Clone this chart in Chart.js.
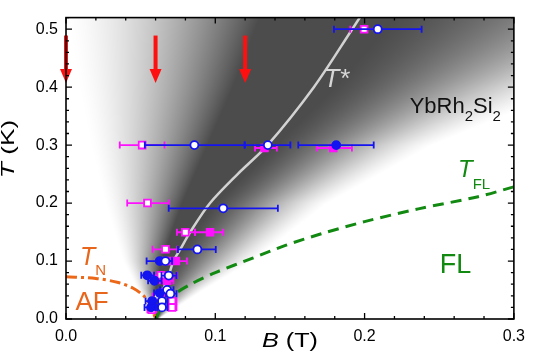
<!DOCTYPE html>
<html>
<head>
<meta charset="utf-8">
<script src="https://cdn.jsdelivr.net/npm/chart.js@4.4.0/dist/chart.umd.min.js"></script>
<style>
  html, body { margin: 0; padding: 0; background: #fff; }
</style>
</head>
<body>
<canvas id="chart" width="533" height="362"></canvas>
<script>
// axis ranges and tick labels
const bRange = [0, 0.3];
const tRange = [0, 0.52];
const bTicks = [0.0, 0.1, 0.2, 0.3];
const tTicks = [0.0, 0.1, 0.2, 0.3, 0.4, 0.5];

// blue open circles: field B, temperature T, error bar ends
const blueOpenB  = [0.2088, 0.086, 0.1352, 0.1053, 0.088, 0.0666, 0.0688, 0.0677, 0.0699, 0.0643, 0.0643];
const blueOpenT  = [0.5, 0.3, 0.3, 0.191, 0.12, 0.1, 0.075, 0.0503, 0.0437, 0.031, 0.02];
const blueOpenLo = [0.1795, 0.0528, 0.1197, 0.0688, 0.075, 0.062, 0.064, 0.063, 0.067, 0.06, 0.06];
const blueOpenHi = [0.2382, 0.1197, 0.1503, 0.1419, 0.1003, 0.071, 0.074, 0.072, 0.074, 0.068, 0.068];

// blue filled circles
const blueFillB  = [0.181, 0.0628, 0.0544, 0.0593, 0.0628, 0.0577, 0.057];
const blueFillT  = [0.3, 0.1, 0.0754, 0.066, 0.0448, 0.031, 0.02];
const blueFillLo = [0.1556, 0.054, 0.0504, 0.055, 0.059, 0.0533, 0.0526];
const blueFillHi = [0.2061, 0.0711, 0.059, 0.064, 0.067, 0.062, 0.061];

// magenta open squares
const magOpenB  = [0.1997, 0.051, 0.0546, 0.0799, 0.0666, 0.0677, 0.0636, 0.061, 0.071, 0.071, 0.0575];
const magOpenT  = [0.5, 0.3, 0.2, 0.1497, 0.1202, 0.1, 0.0754, 0.039, 0.031, 0.02, 0.016];
const magOpenLo = [0.1904, 0.036, 0.041, 0.0743, 0.058, 0.0625, 0.0588, 0.058, 0.068, 0.068, 0.0545];
const magOpenHi = [0.209, 0.066, 0.0688, 0.0864, 0.0746, 0.073, 0.0743, 0.064, 0.074, 0.074, 0.0605];

// magenta filled squares
const magFillB  = [0.133, 0.179, 0.0965, 0.0736, 0.0677, 0.066];
const magFillT  = [0.295, 0.295, 0.1497, 0.1, 0.066, 0.046];
const magFillLo = [0.1266, 0.168, 0.0864, 0.066, 0.063, 0.062];
const magFillHi = [0.1412, 0.1915, 0.1053, 0.081, 0.072, 0.07];

// crossover lines
const tStarB = [0.0654, 0.0688, 0.072, 0.0765, 0.0832, 0.0965, 0.115, 0.135, 0.166, 0.1917, 0.198];
const tStarT = [0.053, 0.075, 0.1, 0.12, 0.15, 0.2, 0.25, 0.3, 0.4, 0.5, 0.525];
const tFlB = [0.06, 0.064, 0.071, 0.085, 0.1, 0.125, 0.147, 0.171, 0.2, 0.236, 0.276, 0.3];
const tFlT = [0, 0.02, 0.04, 0.062, 0.08, 0.105, 0.127, 0.147, 0.168, 0.19, 0.211, 0.228];
const tNB = [0, 0.02, 0.035, 0.045, 0.052, 0.057, 0.06];
const tNT = [0.073, 0.07, 0.063, 0.053, 0.04, 0.022, 0];

// red arrows (field values)
const arrowB = [0, 0.06, 0.12];
const arrowT = [0.489, 0.407];

// grey map: edges of the fan at several temperatures
const shadeT  = [0, 0.05, 0.1, 0.2, 0.3, 0.4, 0.52];
const shadeLw = [0.059, 0.048, 0.038, 0.026, 0.016, 0.008, 0.0];
const shadeLc = [0.06, 0.06, 0.064, 0.078, 0.095, 0.112, 0.13];
const shadeRc = [0.061, 0.064, 0.072, 0.1, 0.14, 0.18, 0.22];
const shadeRw = [0.062, 0.092, 0.125, 0.175, 0.245, 0.34, 0.48];
const shadeCore = 76;

const FONT = "'Liberation Sans', Arial, sans-serif";
const BLUE = '#1414f0';
const MAGENTA = '#ff10ff';

const pts = (xs, ys) => xs.map((v, i) => ({ x: v, y: ys[i] }));

function interp(xs, ys, v) {
  if (v <= xs[0]) return ys[0];
  for (let i = 1; i < xs.length; i++) {
    if (v <= xs[i]) {
      const f = (v - xs[i - 1]) / (xs[i] - xs[i - 1]);
      return ys[i - 1] + f * (ys[i] - ys[i - 1]);
    }
  }
  return ys[ys.length - 1];
}
const rampL = t => Math.pow(t, 1.45);
const rampR = t => 0.5 * t + 0.5 * t * t * (3 - 2 * t);

const shadePlugin = {
  id: 'shade',
  beforeDatasetsDraw(chart) {
    const { ctx, chartArea: a, scales: { x, y } } = chart;
    const w = Math.round(a.right - a.left), h = Math.round(a.bottom - a.top);
    const off = document.createElement('canvas');
    off.width = w; off.height = h;
    const octx = off.getContext('2d');
    const img = octx.createImageData(w, h);
    for (let j = 0; j < h; j++) {
      const T = y.getValueForPixel(a.top + j + 0.5);
      const lw = interp(shadeT, shadeLw, T), lc = interp(shadeT, shadeLc, T);
      const rc = interp(shadeT, shadeRc, T), rw = interp(shadeT, shadeRw, T);
      for (let i = 0; i < w; i++) {
        const B = x.getValueForPixel(a.left + i + 0.5);
        let d = 0;
        if (B > lw && B < lc) d = rampL((B - lw) / (lc - lw));
        else if (B >= lc && B <= rc) d = 1;
        else if (B > rc && B < rw) d = rampR((rw - B) / (rw - rc));
        const g = Math.round(255 - d * (255 - shadeCore));
        const k = (j * w + i) * 4;
        img.data[k] = g; img.data[k + 1] = g; img.data[k + 2] = g; img.data[k + 3] = 255;
      }
    }
    octx.putImageData(img, 0, 0);
    ctx.drawImage(off, a.left, a.top);
  }
};

// horizontal error bars, drawn just under each marker set
const errorBarPlugin = {
  id: 'errorBars',
  beforeDatasetDraw(chart, args) {
    const ds = chart.data.datasets[args.index];
    if (!ds.errLo) return;
    const { ctx, scales: { x, y } } = chart;
    ctx.save();
    ctx.strokeStyle = ds.borderColor;
    ctx.lineWidth = 1.8;
    ds.data.forEach((p, i) => {
      const py = y.getPixelForValue(p.y);
      const x0 = x.getPixelForValue(ds.errLo[i]);
      const x1 = x.getPixelForValue(ds.errHi[i]);
      ctx.beginPath();
      ctx.moveTo(x0, py); ctx.lineTo(x1, py);
      ctx.moveTo(x0, py - 3.5); ctx.lineTo(x0, py + 3.5);
      ctx.moveTo(x1, py - 3.5); ctx.lineTo(x1, py + 3.5);
      ctx.stroke();
    });
    ctx.restore();
  }
};

function drawParts(ctx, x0, y0, parts) {
  let cx = x0;
  parts.forEach(p => {
    ctx.font = p.font;
    ctx.fillStyle = p.color;
    ctx.fillText(p.text, cx + (p.dx || 0), y0 + (p.dy || 0));
    cx += ctx.measureText(p.text).width + (p.dx || 0);
  });
}

const labels = [
  { B: 0.1724, T: 0.401, parts: [
    { text: 'T', font: `italic 26px ${FONT}`, color: '#d6d6d6' },
    { text: '*', font: `26px ${FONT}`, color: '#d6d6d6', dx: 1 }] },
  { B: 0.2302, T: 0.356, parts: [
    { text: 'YbRh', font: `22px ${FONT}`, color: '#111' },
    { text: '2', font: `15px ${FONT}`, color: '#111', dy: 8 },
    { text: 'Si', font: `22px ${FONT}`, color: '#111' },
    { text: '2', font: `15px ${FONT}`, color: '#111', dy: 8 }] },
  { B: 0.2626, T: 0.2443, parts: [
    { text: 'T', font: `italic 24px ${FONT}`, color: '#128a12' },
    { text: 'FL', font: `15px ${FONT}`, color: '#128a12', dy: 12 }] },
  { B: 0.2504, T: 0.0792, parts: [
    { text: 'FL', font: `27px ${FONT}`, color: '#128a12' }] },
  { B: 0.0094, T: 0.0939, parts: [
    { text: 'T', font: `italic 25px ${FONT}`, color: '#e8661c' },
    { text: 'N', font: `15px ${FONT}`, color: '#e8661c', dy: 10 }] },
  { B: 0.0063, T: 0.0148, parts: [
    { text: 'AF', font: `26px ${FONT}`, color: '#e8661c' }] }
];

const annotatePlugin = {
  id: 'annotate',
  afterDatasetsDraw(chart) {
    const { ctx, scales: { x, y } } = chart;
    ctx.save();
    ctx.textBaseline = 'alphabetic';
    ctx.textAlign = 'left';
    labels.forEach(l => drawParts(ctx, x.getPixelForValue(l.B), y.getPixelForValue(l.T), l.parts));
    // red arrows
    ctx.strokeStyle = '#ff1010';
    ctx.fillStyle = '#ff1010';
    arrowB.forEach(b => {
      const px = x.getPixelForValue(b);
      const y0 = y.getPixelForValue(arrowT[0]);
      const y1 = y.getPixelForValue(arrowT[1]);
      ctx.lineWidth = 4;
      ctx.beginPath();
      ctx.moveTo(px, y0); ctx.lineTo(px, y1 - 12);
      ctx.stroke();
      ctx.beginPath();
      ctx.moveTo(px - 6, y1 - 14); ctx.lineTo(px + 6, y1 - 14); ctx.lineTo(px, y1);
      ctx.closePath();
      ctx.fill();
    });
    ctx.restore();
  }
};

// text with a horizontal stretch
function stretchedTitle(ctx, cx, baseY, italicPart, rest, size, sx) {
  ctx.save();
  ctx.translate(cx, baseY);
  ctx.scale(sx, 1);
  ctx.font = `italic ${size}px ${FONT}`;
  const w1 = ctx.measureText(italicPart).width;
  ctx.font = `${size}px ${FONT}`;
  const w2 = ctx.measureText(rest).width;
  const s = -(w1 + w2) / 2;
  ctx.font = `italic ${size}px ${FONT}`;
  ctx.fillText(italicPart, s, 0);
  ctx.font = `${size}px ${FONT}`;
  ctx.fillText(rest, s + w1, 0);
  ctx.restore();
}

const framePlugin = {
  id: 'frame',
  afterDraw(chart) {
    const { ctx, chartArea: a, scales: { x, y } } = chart;
    ctx.save();
    ctx.strokeStyle = '#000';
    ctx.lineWidth = 1.3;
    ctx.beginPath();
    for (let v = 0; v <= bRange[1] + 1e-9; v += 0.02) {
      const px = x.getPixelForValue(v);
      const len = Math.abs(v / 0.1 - Math.round(v / 0.1)) < 1e-6 ? 6 : 3;
      ctx.moveTo(px, a.bottom); ctx.lineTo(px, a.bottom - len);
      ctx.moveTo(px, a.top); ctx.lineTo(px, a.top + len);
    }
    for (let v = 0; v <= tRange[1] + 1e-9; v += 0.02) {
      const py = y.getPixelForValue(v);
      const len = Math.abs(v / 0.1 - Math.round(v / 0.1)) < 1e-6 ? 6 : 3;
      ctx.moveTo(a.left, py); ctx.lineTo(a.left + len, py);
      ctx.moveTo(a.right, py); ctx.lineTo(a.right - len, py);
    }
    ctx.stroke();
    ctx.lineWidth = 1.6;
    ctx.strokeRect(a.left, a.top, a.right - a.left, a.bottom - a.top);

    // axis titles
    ctx.fillStyle = '#000';
    ctx.textBaseline = 'alphabetic';
    ctx.textAlign = 'left';
    stretchedTitle(ctx, 290, 347, 'B', ' (T)', 21, 1.2);
    ctx.translate(14, 149);
    ctx.rotate(-Math.PI / 2);
    stretchedTitle(ctx, 0, 0, 'T', ' (K)', 17.5, 1.5);
    ctx.restore();
  }
};

const markerSet = (label, xs, ys, lo, hi, color, style, filled, radius) => ({
  type: 'scatter',
  label,
  data: pts(xs, ys),
  errLo: lo,
  errHi: hi,
  borderColor: color,
  backgroundColor: filled ? color : '#fff',
  pointStyle: style,
  pointRadius: radius,
  pointBorderWidth: 1.8,
  showLine: false
});

new Chart(document.getElementById('chart'), {
  data: {
    datasets: [
      markerSet('blue open', blueOpenB, blueOpenT, blueOpenLo, blueOpenHi, BLUE, 'circle', false, 4),
      markerSet('blue filled', blueFillB, blueFillT, blueFillLo, blueFillHi, BLUE, 'circle', true, 4),
      markerSet('magenta open', magOpenB, magOpenT, magOpenLo, magOpenHi, MAGENTA, 'rect', false, 4.8),
      markerSet('magenta filled', magFillB, magFillT, magFillLo, magFillHi, MAGENTA, 'rect', true, 4.8),
      {
        type: 'line', label: 'T*', data: pts(tStarB, tStarT),
        borderColor: '#d2d2d2', borderWidth: 2.5, pointRadius: 0, tension: 0.3, fill: false
      },
      {
        type: 'line', label: 'TFL', data: pts(tFlB, tFlT),
        borderColor: '#128a12', borderWidth: 3, borderDash: [11, 7], pointRadius: 0, tension: 0.3, fill: false
      },
      {
        type: 'line', label: 'TN', data: pts(tNB, tNT),
        borderColor: '#ec6818', borderWidth: 3, borderDash: [11, 4, 3, 4], pointRadius: 0, tension: 0.3, fill: false
      }
    ]
  },
  options: {
    responsive: false,
    animation: false,
    layout: { padding: { top: 3, right: 15, left: 0, bottom: 0 } },
    plugins: { legend: { display: false }, tooltip: { enabled: false } },
    scales: {
      x: {
        type: 'linear', min: bRange[0], max: bRange[1],
        grid: { display: false, drawTicks: false },
        border: { display: false },
        afterFit(s) { s.height = 43; },
        afterBuildTicks(s) { s.ticks = bTicks.map(v => ({ value: v })); },
        ticks: {
          padding: 8, color: '#000', font: { family: FONT, size: 16 },
          callback: v => v.toFixed(1)
        }
      },
      y: {
        type: 'linear', min: tRange[0], max: tRange[1],
        grid: { display: false, drawTicks: false },
        border: { display: false },
        afterFit(s) { s.width = 66; },
        afterBuildTicks(s) { s.ticks = tTicks.map(v => ({ value: v })); },
        ticks: {
          padding: 8, color: '#000', font: { family: FONT, size: 16 },
          callback: v => v.toFixed(1)
        }
      }
    }
  },
  plugins: [shadePlugin, errorBarPlugin, annotatePlugin, framePlugin]
});
</script>
</body>
</html>
